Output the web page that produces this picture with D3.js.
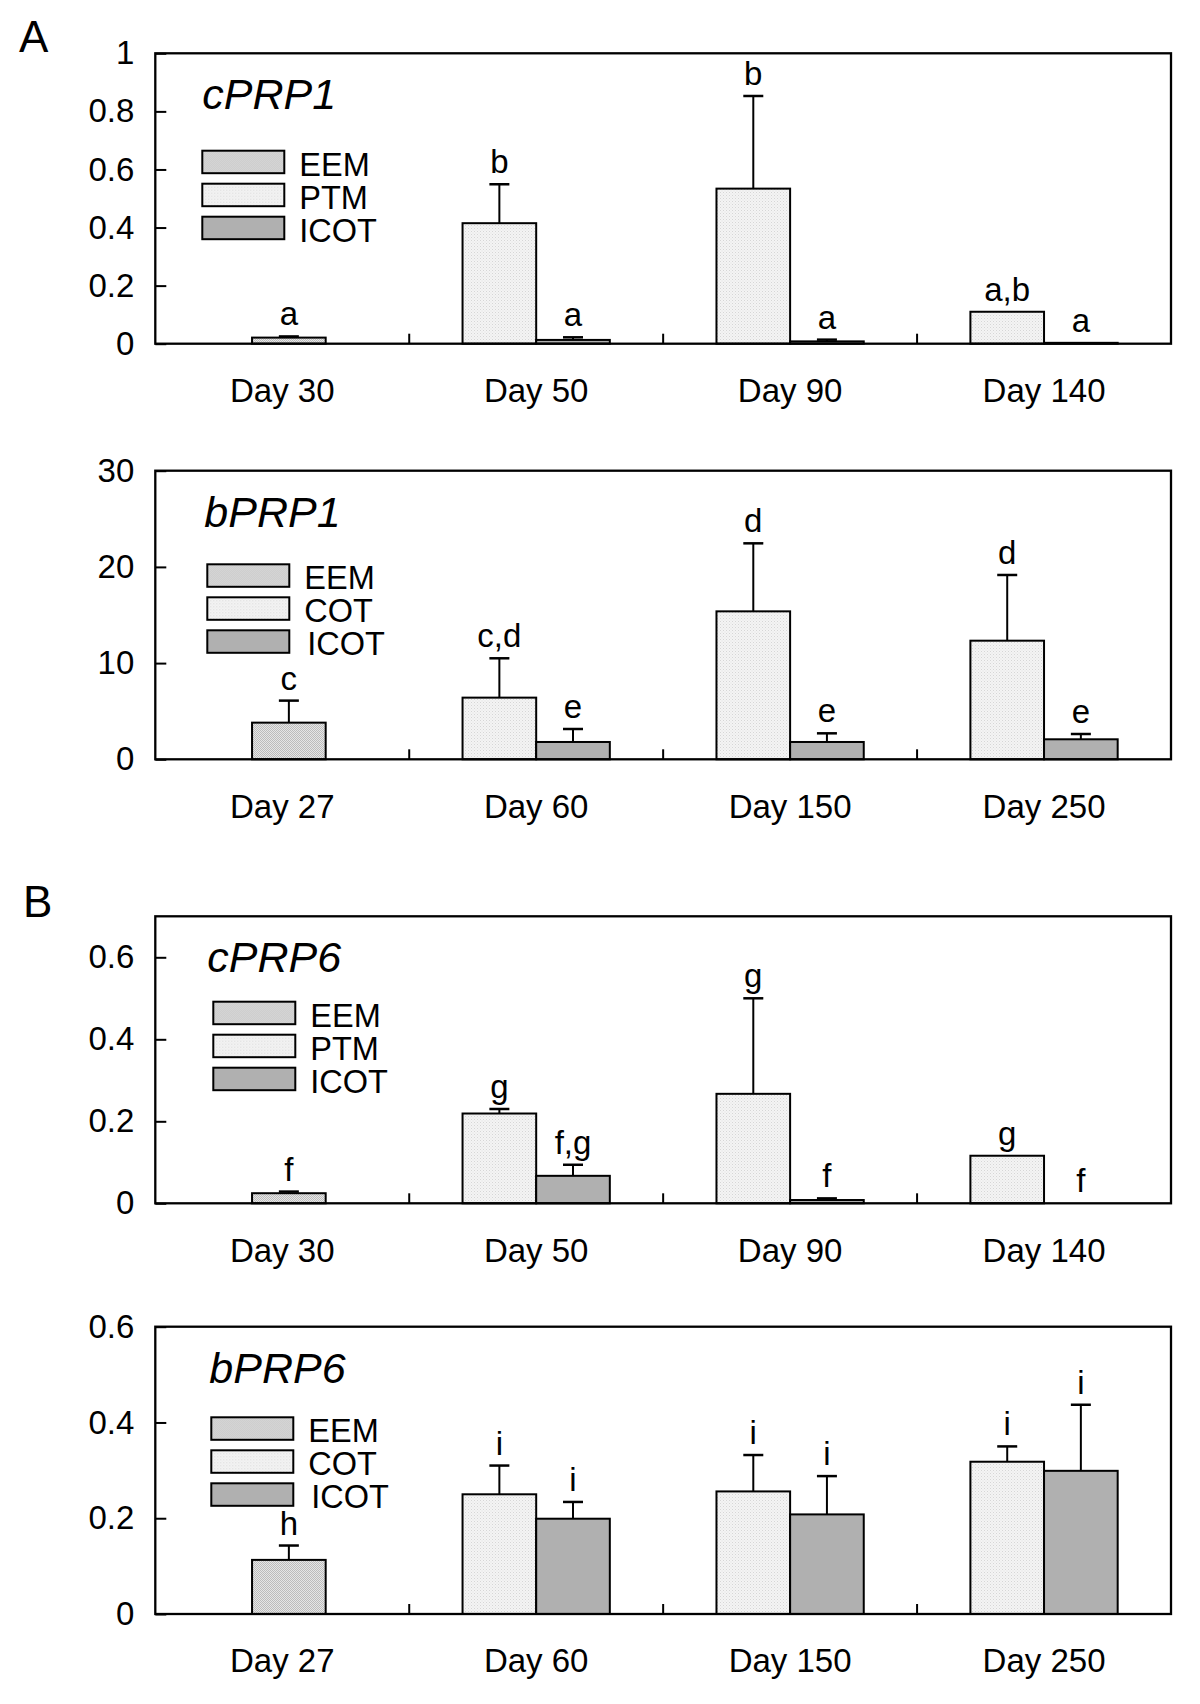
<!DOCTYPE html>
<html>
<head>
<meta charset="utf-8">
<script src="https://cdn.jsdelivr.net/npm/d3@7"></script>
<style>
  html, body { margin: 0; padding: 0; background: #fff; }
  svg { display: block; font-family: "Liberation Sans", Arial, sans-serif; }
</style>
</head>
<body>
<svg id="chart" width="1200" height="1704"></svg>
<script>
// ---------------- DATA ----------------
const genes = ["cPRP1", "bPRP1", "cPRP6", "bPRP6"];

const daysC = ["Day 30", "Day 50", "Day 90", "Day 140"];
const daysB = ["Day 27", "Day 60", "Day 150", "Day 250"];

const seriesC = ["EEM", "PTM", "ICOT"];
const seriesB = ["EEM", "COT", "ICOT"];

// cPRP1
const cPRP1_EEM = [0.021, null, null, null];
const cPRP1_EEM_se = [0.004, null, null, null];
const cPRP1_MID = [null, 0.415, 0.534, 0.110];
const cPRP1_MID_se = [null, 0.134, 0.319, 0];
const cPRP1_ICOT = [null, 0.013, 0.008, 0.003];
const cPRP1_ICOT_se = [null, 0.009, 0.006, 0];
const cPRP1_letters_EEM = ["a", null, null, null];
const cPRP1_letters_MID = [null, "b", "b", "a,b"];
const cPRP1_letters_ICOT = [null, "a", "a", "a"];
const cPRP1_ticks = [0, 0.2, 0.4, 0.6, 0.8, 1];
const cPRP1_max = 1;

// bPRP1
const bPRP1_EEM = [3.81, null, null, null];
const bPRP1_EEM_se = [2.29, null, null, null];
const bPRP1_MID = [null, 6.41, 15.38, 12.33];
const bPRP1_MID_se = [null, 4.09, 7.07, 6.83];
const bPRP1_ICOT = [null, 1.80, 1.80, 2.08];
const bPRP1_ICOT_se = [null, 1.35, 0.90, 0.55];
const bPRP1_letters_EEM = ["c", null, null, null];
const bPRP1_letters_MID = [null, "c,d", "d", "d"];
const bPRP1_letters_ICOT = [null, "e", "e", "e"];
const bPRP1_ticks = [0, 10, 20, 30];
const bPRP1_max = 30;

// cPRP6
const cPRP6_EEM = [0.0246, null, null, null];
const cPRP6_EEM_se = [0.004, null, null, null];
const cPRP6_MID = [null, 0.219, 0.267, 0.116];
const cPRP6_MID_se = [null, 0.011, 0.233, 0];
const cPRP6_ICOT = [null, 0.067, 0.008, 0];
const cPRP6_ICOT_se = [null, 0.027, 0.004, 0];
const cPRP6_letters_EEM = ["f", null, null, null];
const cPRP6_letters_MID = [null, "g", "g", "g"];
const cPRP6_letters_ICOT = [null, "f,g", "f", "f"];
const cPRP6_ticks = [0, 0.2, 0.4, 0.6];
const cPRP6_max = 0.7;

// bPRP6
const bPRP6_EEM = [0.113, null, null, null];
const bPRP6_EEM_se = [0.030, null, null, null];
const bPRP6_MID = [null, 0.250, 0.256, 0.318];
const bPRP6_MID_se = [null, 0.060, 0.076, 0.032];
const bPRP6_ICOT = [null, 0.199, 0.208, 0.299];
const bPRP6_ICOT_se = [null, 0.035, 0.080, 0.138];
const bPRP6_letters_EEM = ["h", null, null, null];
const bPRP6_letters_MID = [null, "i", "i", "i"];
const bPRP6_letters_ICOT = [null, "i", "i", "i"];
const bPRP6_ticks = [0, 0.2, 0.4, 0.6];
const bPRP6_max = 0.6;

const sectionLabels = ["A", "B"];

// ---------------- LAYOUT ----------------
const panelData = [
  { gene: genes[0], days: daysC, series: seriesC, vals: [cPRP1_EEM, cPRP1_MID, cPRP1_ICOT], se: [cPRP1_EEM_se, cPRP1_MID_se, cPRP1_ICOT_se], letters: [cPRP1_letters_EEM, cPRP1_letters_MID, cPRP1_letters_ICOT], ticks: cPRP1_ticks, max: cPRP1_max },
  { gene: genes[1], days: daysB, series: seriesB, vals: [bPRP1_EEM, bPRP1_MID, bPRP1_ICOT], se: [bPRP1_EEM_se, bPRP1_MID_se, bPRP1_ICOT_se], letters: [bPRP1_letters_EEM, bPRP1_letters_MID, bPRP1_letters_ICOT], ticks: bPRP1_ticks, max: bPRP1_max },
  { gene: genes[2], days: daysC, series: seriesC, vals: [cPRP6_EEM, cPRP6_MID, cPRP6_ICOT], se: [cPRP6_EEM_se, cPRP6_MID_se, cPRP6_ICOT_se], letters: [cPRP6_letters_EEM, cPRP6_letters_MID, cPRP6_letters_ICOT], ticks: cPRP6_ticks, max: cPRP6_max },
  { gene: genes[3], days: daysB, series: seriesB, vals: [bPRP6_EEM, bPRP6_MID, bPRP6_ICOT], se: [bPRP6_EEM_se, bPRP6_MID_se, bPRP6_ICOT_se], letters: [bPRP6_letters_EEM, bPRP6_letters_MID, bPRP6_letters_ICOT], ticks: bPRP6_ticks, max: bPRP6_max }
];

const layout = [
  { top: 53.3, bottom: 343.7, titleDx: 47, legDx: 47, legDy: 97.4 },
  { top: 470.7, bottom: 759.3, titleDx: 49, legDx: 52, legDy: 93.6 },
  { top: 916.3, bottom: 1203.3, titleDx: 52, legDx: 58, legDy: 85.4 },
  { top: 1326.7, bottom: 1614, titleDx: 54, legDx: 56, legDy: 90.6 }
];
const LEFT = 155.3, RIGHT = 1171;

const svg = d3.select("#chart");
const defs = svg.append("defs");

// fill patterns
const pE = defs.append("pattern").attr("id", "pEEM").attr("width", 2).attr("height", 2).attr("patternUnits", "userSpaceOnUse");
pE.append("rect").attr("width", 2).attr("height", 2).attr("fill", "#e6e6e6");
pE.append("rect").attr("width", 1).attr("height", 1).attr("fill", "#bcbcbc");
pE.append("rect").attr("x", 1).attr("y", 1).attr("width", 1).attr("height", 1).attr("fill", "#bcbcbc");

const pM = defs.append("pattern").attr("id", "pMID").attr("width", 3).attr("height", 3).attr("patternUnits", "userSpaceOnUse");
pM.append("rect").attr("width", 3).attr("height", 3).attr("fill", "#f4f4f4");
pM.append("rect").attr("width", 1).attr("height", 1).attr("fill", "#d6d6d6");
pM.append("rect").attr("x", 1.5).attr("y", 1.5).attr("width", 1).attr("height", 1).attr("fill", "#e0e0e0");

const fills = ["url(#pEEM)", "url(#pMID)", "#b0b0b0"];

// section labels
svg.append("text").attr("x", 19).attr("y", 52).attr("font-size", 44).text(sectionLabels[0]);
svg.append("text").attr("x", 23).attr("y", 917).attr("font-size", 44).text(sectionLabels[1]);

panelData.forEach((p, pi) => {
  const L = layout[pi];
  const g = svg.append("g");

  const x0 = d3.scaleBand().domain(p.days).range([LEFT, RIGHT]).paddingInner(0).paddingOuter(0);
  const bw = x0.bandwidth();
  const barW = bw * 0.29;
  const xPair = d3.scaleBand().domain([p.series[1], p.series[2]]).range([bw / 2 - barW, bw / 2 + barW]);
  const xSingle = d3.scaleBand().domain([p.series[0]]).range([bw / 2 - barW / 2 + bw * 0.026, bw / 2 + barW / 2 + bw * 0.026]);

  const y = d3.scaleLinear().domain([0, p.max]).range([L.bottom, L.top]);

  // bars data
  const bars = [];
  p.series.forEach((s, si) => {
    p.days.forEach((d, di) => {
      const v = p.vals[si][di];
      if (v === null || v === undefined) return;
      const xs = si === 0 ? xSingle : xPair;
      bars.push({
        s, si, d, v, se: p.se[si][di], letter: p.letters[si][di],
        x: x0(d) + xs(s), w: xs.bandwidth()
      });
    });
  });

  // y axis (inner ticks)
  const yAxis = d3.axisLeft(y).tickValues(p.ticks).tickSizeInner(-11).tickSizeOuter(0).tickPadding(21).tickFormat(v => String(v));
  const ya = g.append("g").attr("transform", `translate(${LEFT},0)`).call(yAxis);
  ya.select(".domain").remove();
  ya.selectAll(".tick line").attr("stroke", "#000").attr("stroke-width", 2);
  ya.selectAll(".tick text").attr("font-size", 33).attr("fill", "#000").attr("font-family", "Liberation Sans, Arial, sans-serif");

  // x axis labels
  const xAxis = d3.axisBottom(x0).tickSize(0).tickPadding(35);
  const xa = g.append("g").attr("transform", `translate(0,${L.bottom})`).call(xAxis);
  xa.select(".domain").remove();
  xa.selectAll(".tick text").attr("font-size", 33).attr("fill", "#000").attr("font-family", "Liberation Sans, Arial, sans-serif");

  // group separators on bottom axis
  g.selectAll(".sep").data(p.days.slice(1)).enter().append("line")
    .attr("x1", d => x0(d)).attr("x2", d => x0(d))
    .attr("y1", L.bottom).attr("y2", L.bottom - 10)
    .attr("stroke", "#000").attr("stroke-width", 2);

  // bars
  g.selectAll(".bar").data(bars).enter().append("rect")
    .attr("x", d => d.x).attr("width", d => d.w)
    .attr("y", d => y(d.v)).attr("height", d => Math.max(0, y(0) - y(d.v)))
    .attr("fill", d => fills[d.si])
    .attr("stroke", "#000").attr("stroke-width", 2);

  // error bars
  const eb = bars.filter(d => d.se > 0);
  g.selectAll(".ebv").data(eb).enter().append("line")
    .attr("x1", d => d.x + d.w / 2).attr("x2", d => d.x + d.w / 2)
    .attr("y1", d => y(d.v)).attr("y2", d => y(d.v + d.se))
    .attr("stroke", "#000").attr("stroke-width", 2);
  g.selectAll(".ebh").data(eb).enter().append("line")
    .attr("x1", d => d.x + d.w / 2 - 10).attr("x2", d => d.x + d.w / 2 + 10)
    .attr("y1", d => y(d.v + d.se)).attr("y2", d => y(d.v + d.se))
    .attr("stroke", "#000").attr("stroke-width", 2.5);

  // letters
  g.selectAll(".let").data(bars.filter(d => d.letter)).enter().append("text")
    .attr("x", d => d.x + d.w / 2)
    .attr("y", d => y(d.v + (d.se || 0)) - 11)
    .attr("text-anchor", "middle").attr("font-size", 33)
    .text(d => d.letter);

  // frame
  g.append("rect").attr("x", LEFT).attr("y", L.top).attr("width", RIGHT - LEFT).attr("height", L.bottom - L.top)
    .attr("fill", "none").attr("stroke", "#000").attr("stroke-width", 2.3);

  // gene title
  g.append("text").attr("x", LEFT + L.titleDx).attr("y", L.top + 56)
    .attr("font-size", 43).attr("font-style", "italic").text(p.gene);

  // legend
  const lg = g.append("g").attr("transform", `translate(${LEFT + L.legDx},${L.top + L.legDy})`);
  p.series.forEach((s, si) => {
    lg.append("rect").attr("x", 0).attr("y", si * 33).attr("width", 82).attr("height", 22.5)
      .attr("fill", fills[si]).attr("stroke", "#000").attr("stroke-width", 2);
    lg.append("text").attr("x", 97 + (si === 2 && pi % 2 === 1 ? 3 : 0)).attr("y", si * 33 + 25)
      .attr("font-size", 32.5).text(s);
  });
});
</script>
</body>
</html>
